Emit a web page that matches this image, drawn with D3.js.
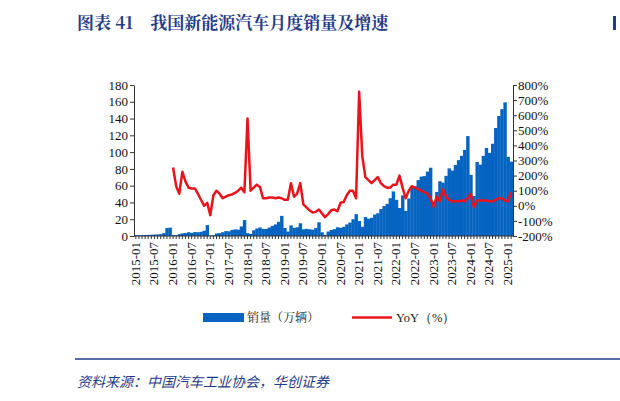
<!DOCTYPE html>
<html><head><meta charset="utf-8">
<script src="https://cdn.jsdelivr.net/npm/d3@7"></script>
<style>body{margin:0;background:#fff}</style></head>
<body><svg id="c" width="620" height="401"></svg>
<script>
const sales = [
1,1,1,1.2,1.3,1.5,1.7,1.8,2.2,3.5,9.5,10,
1.2,1.0,2.2,3.2,3.5,4.5,3.7,4.7,4.5,5.0,6.3,13,
0.6,1.0,3.0,3.4,4.5,5.8,5.6,7.3,7.8,7.6,11.4,19,
3.4,2.5,6.8,9.0,10.2,8.4,8.4,10.1,12.1,13.8,16.9,24,
9.6,5.3,12.6,9.7,10.4,15.2,8.0,8.5,8.0,7.5,9.5,16.3,
4.4,1.3,5.3,7.2,8.2,10.4,9.8,10.9,13.8,16.0,20.0,26,
17.9,11.0,22.6,20.6,21.7,25.6,27.1,32.1,35.7,38.3,45.0,53.1,
43.1,33.4,48.4,29.9,44.7,59.6,59.3,66.6,70.8,71.4,76.8,81.4,
40.8,52.5,65.3,63.6,71.7,80.6,78.0,84.6,90.4,95.6,102.6,119.1,
72.9,47.7,88.3,85.0,95.5,104.9,99.1,110.0,128.7,143.0,151.2,159.3,
94.4,88.7];
const yoy = [
254,130,80,225,160,120,115,115,80,40,0,20,
-62,70,100,80,50,60,70,75,85,100,120,90,
578,100,120,140,125,50,50,55,55,50,55,50,
40,40,150,60,80,150,10,-10,-30,-45,-40,-25,
-50,-75,-55,-30,-25,-35,20,25,70,100,100,50,
755,330,190,170,150,170,190,150,130,120,120,140,
140,200,120,50,100,130,120,110,100,90,80,50,
-5,60,30,110,60,40,30,30,30,35,30,50,
80,-10,35,35,35,35,30,30,40,50,50,35,
30,90];
const months = [];
for (let y=2015;y<=2025;y++) for (let m=1;m<=12;m++){ if(y===2025&&m>2)break; months.push(y+"-"+String(m).padStart(2,"0")); }
const leftTicks=[0,20,40,60,80,100,120,140,160,180];
const rightTicks=[-200,-100,0,100,200,300,400,500,600,700,800];

const svg=d3.select("#c");
const L=134,R=513,T=85,B=236;
const x=d3.scaleBand().domain(months).range([L,R]).paddingInner(0).paddingOuter(0.1);
const yl=d3.scaleLinear().domain([0,180]).range([B,T]);
const yr=d3.scaleLinear().domain([-200,800]).range([B,T]);
const serif="'Liberation Serif','Times New Roman',serif";
const blue="#0563C1", red="#E8131B";

svg.append("text").attr("x",77).attr("y",29).attr("fill","#1F3C88").attr("font-weight","bold")
 .attr("font-family","'Noto Serif CJK SC','Noto Sans CJK SC',serif").attr("font-size",17)
 .text("图表 41　我国新能源汽车月度销量及增速");
svg.append("rect").attr("x",613).attr("y",16).attr("width",3).attr("height",14).attr("fill","#1F3C88");

svg.append("g").selectAll("rect").data(sales).join("rect")
 .attr("x",(d,i)=>x(months[i])).attr("width",x.bandwidth()+0.3)
 .attr("y",d=>yl(d)).attr("height",d=>B-yl(d)).attr("fill",blue);

const line=d3.line().x((d,i)=>x(months[i+12])+x.bandwidth()/2).y(d=>yr(d));
svg.append("path").datum(yoy).attr("d",line).attr("fill","none").attr("stroke",red).attr("stroke-width",2.5).attr("stroke-linejoin","round");

const ga=svg.append("g").attr("transform",`translate(${L},0)`).call(d3.axisLeft(yl).tickValues(leftTicks).tickSize(4).tickSizeOuter(0));
const gr=svg.append("g").attr("transform",`translate(${R},0)`).call(d3.axisRight(yr).tickValues(rightTicks).tickSize(4).tickFormat(d=>d+"%").tickSizeOuter(0));
const gx=svg.append("g").attr("transform",`translate(0,${B})`).call(d3.axisBottom(x).tickSize(3).tickFormat(""));
gx.select(".domain").attr("d",`M${L},0H${R}`);
[ga,gr,gx].forEach(g=>{g.selectAll("line,path").attr("stroke","#333");g.selectAll("text").attr("font-family",serif).attr("font-size",13).attr("fill","#111");});
ga.selectAll("text").attr("x",-6);gr.selectAll("text").attr("x",5);
svg.append("g").selectAll("text").data(months.filter((m,i)=>i%6===0)).join("text")
 .attr("transform",d=>`translate(${x(d)+x.bandwidth()/2+4},${B+6}) rotate(-90)`)
 .attr("text-anchor","end").attr("font-family",serif).attr("font-size",13).attr("fill","#111").text(d=>d);

svg.append("rect").attr("x",203).attr("y",313).attr("width",41).attr("height",9).attr("fill",blue);
svg.append("text").attr("x",247).attr("y",322).attr("font-family","'Noto Serif CJK SC','Noto Sans CJK SC'").attr("font-size",12).attr("fill","#222").text("销量（万辆）");
svg.append("line").attr("x1",352).attr("x2",392).attr("y1",317.5).attr("y2",317.5).attr("stroke",red).attr("stroke-width",2.5);
svg.append("text").attr("x",396).attr("y",322).attr("font-family",serif).attr("font-size",12.5).attr("fill","#222").text("YoY（%）");

svg.append("line").attr("x1",75).attr("x2",620).attr("y1",359).attr("y2",359).attr("stroke","#1F3C88").attr("stroke-width",1.5);
svg.append("text").attr("x",77).attr("y",387).attr("font-family","'Noto Sans CJK SC'").attr("font-style","italic").attr("font-size",14).attr("fill","#1F3C88").text("资料来源：中国汽车工业协会，华创证券");
</script></body></html>
